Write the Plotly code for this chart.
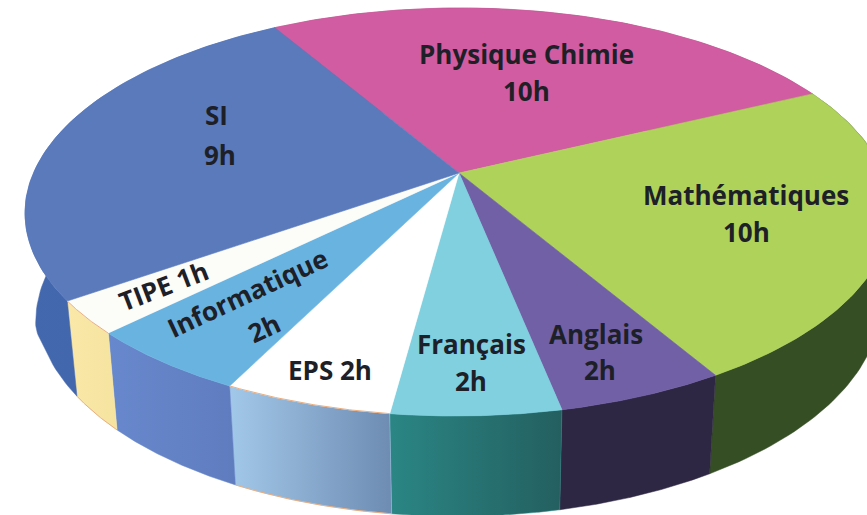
import numpy as np
import plotly.graph_objects as go

# Subjects in drawing order, clockwise from the Physique/SI boundary
subjects = ["Physique Chimie", "Mathématiques", "Anglais", "Français", "EPS", "Informatique", "TIPE", "SI"]
# Sizes of the slices as drawn: the SI slice is drawn visibly larger than Mathématiques
slice_hours = [10, 9, 2, 2, 2, 2, 1, 10]
# Hours as printed on the labels
hour_labels = ["10h", "10h", "2h", "2h", "2h", "2h", "1h", "9h"]

top_colors = ["#D15CA1", "#AFD35A", "#7160A6", "#80D0DF", "#FFFFFF", "#69B3E1", "#FCFCF8", "#5A7ABC"]
side_left = ["#A0447A", "#354E24", "#2E2743", "#2A8684", "#A2C8E9", "#6888CD", "#F9E8A8", "#4468AE"]
side_right = ["#A0447A", "#354E24", "#2E2743", "#245F60", "#6E8CB2", "#5F7CBF", "#F6E3A0", "#3F62A6"]

# Projection of the disc on the page
ELL_X, ELL_Y, ELL_A, ELL_B = 458.0, 212.0, 433.0, 204.0
HUB_X, HUB_Y = 459.0, 173.0
START_DEG = -30.2
TILT = np.radians(0.2)
cos_t, sin_t = np.cos(TILT), np.sin(TILT)

hub_dx, hub_dy = HUB_X - ELL_X, HUB_Y - ELL_Y
p_vec = np.array([(hub_dx * cos_t - hub_dy * sin_t) / ELL_A, (hub_dx * sin_t + hub_dy * cos_t) / ELL_B])
beta = float(np.hypot(*p_vec))
p_hat = p_vec / beta
shrink = np.sqrt(1 - beta ** 2)


def rim(phi_deg):
    phi = np.radians(np.asarray(phi_deg, dtype=float))
    ux, uy = np.sin(phi), -np.cos(phi)
    d = ux * p_hat[0] + uy * p_hat[1]
    par = (d + beta) / (1 + beta * d)
    qx = par * p_hat[0] + (ux - d * p_hat[0]) * shrink / (1 + beta * d)
    qy = par * p_hat[1] + (uy - d * p_hat[1]) * shrink / (1 + beta * d)
    ex, ey = ELL_A * qx, ELL_B * qy
    return ELL_X + ex * cos_t + ey * sin_t, ELL_Y - ex * sin_t + ey * cos_t


def floor_of(x, y):
    extra = np.clip((250 - y) / 35, 0, 1) * 18
    return x - 0.024 * (x - 470), y + 82 + 0.044 * y + extra


edges = START_DEG + np.concatenate([[0], np.cumsum(slice_hours)]) * 360.0 / sum(slice_hours)

fig = go.Figure()

# Sides of the drum
for i, name in enumerate(subjects):
    phi = np.linspace(edges[i], edges[i + 1], 80)
    x, y = rim(phi)
    bx, by = floor_of(x, y)
    px = np.concatenate([x, bx[::-1], x[:1]])
    py = np.concatenate([y, by[::-1], y[:1]])
    fig.add_trace(go.Scatter(
        x=px, y=py, mode="lines", fill="toself", name=name + " (side)",
        line=dict(width=0.5, color=side_left[i]),
        fillgradient=dict(type="horizontal", colorscale=[[0, side_left[i]], [1, side_right[i]]]),
        hoverinfo="skip", showlegend=False,
    ))

# Top face
for i, name in enumerate(subjects):
    phi = np.linspace(edges[i], edges[i + 1], 120)
    x, y = rim(phi)
    fig.add_trace(go.Scatter(
        x=np.concatenate([[HUB_X], x, [HUB_X]]), y=np.concatenate([[HUB_Y], y, [HUB_Y]]),
        mode="lines", fill="toself", fillcolor=top_colors[i], name=name,
        line=dict(width=0.6, color=top_colors[i]),
        hoverinfo="name", showlegend=False,
    ))

# Thin orange rim on the pale slices
for i in (4, 6):
    phi = np.linspace(edges[i], edges[i + 1], 60)
    x, y = rim(phi)
    bx, by = floor_of(x, y)
    for lx, ly in ((x, y), (bx, by)):
        fig.add_trace(go.Scatter(x=lx, y=ly, mode="lines", line=dict(width=1, color="#E9AE82"),
                                 hoverinfo="skip", showlegend=False))

# Labels: text, x, y, angle
labels = [
    (subjects[0], 526, 54, 0), (hour_labels[0], 526, 91, 0),
    (subjects[1], 746, 195, 0), (hour_labels[1], 746, 232, 0),
    (subjects[2], 596, 334, 0), (hour_labels[2], 600, 370, 0),
    (subjects[3], 471, 344, 0), (hour_labels[3], 471, 381, 0),
    (subjects[4] + " " + hour_labels[4], 330, 370, 0),
    (subjects[5], 247, 293, -25), (hour_labels[5], 264, 328, -25),
    (subjects[6] + " " + hour_labels[6], 163, 286, -21),
    (subjects[7], 216, 115, 0), (hour_labels[7], 220, 155, 0),
]
for text, x, y, angle in labels:
    fig.add_annotation(x=x, y=y, text="<b>%s</b>" % text, textangle=angle, showarrow=False,
                       font=dict(family="Open Sans", size=26, color="#1E2028"),
                       xanchor="center", yanchor="middle")

fig.update_layout(
    width=867, height=515, margin=dict(l=0, r=0, t=0, b=0),
    paper_bgcolor="white", plot_bgcolor="white", showlegend=False,
    xaxis=dict(range=[0, 867], visible=False, fixedrange=True),
    yaxis=dict(range=[515, 0], visible=False, fixedrange=True),
)
fig.write_html("out.html", config=dict(displayModeBar=False),
               post_script="document.body.style.margin='0';")
